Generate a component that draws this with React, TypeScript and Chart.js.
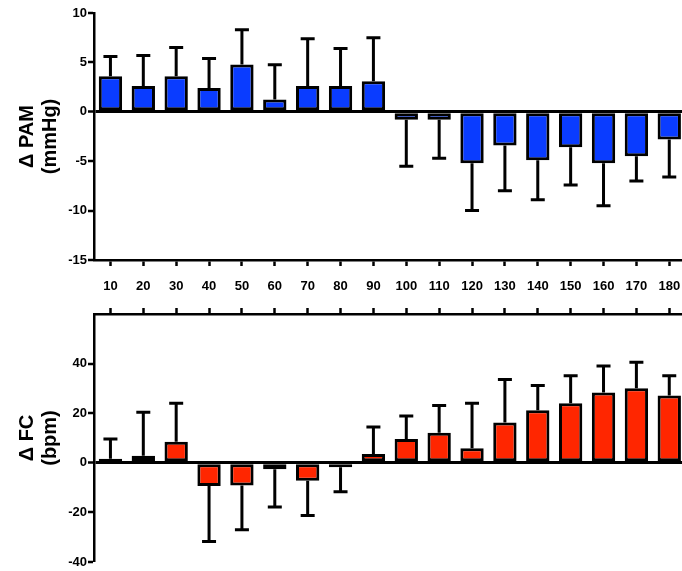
import React, { useEffect, useRef } from "react";
import { Chart, registerables } from "chart.js";

Chart.register(...registerables);

const categories = ["10", "20", "30", "40", "50", "60", "70", "80", "90", "100", "110", "120", "130", "140", "150", "160", "170", "180"];
const pamValues = [3.6, 2.6, 3.6, 2.4, 4.8, 1.25, 2.6, 2.6, 3.1, -0.8, -0.8, -5.2, -3.4, -4.9, -3.6, -5.2, -4.5, -2.8];
const pamErrors = [2.0, 3.1, 2.9, 3.0, 3.5, 3.5, 4.8, 3.8, 4.4, 4.7, 3.9, 4.8, 4.6, 4.0, 3.8, 4.3, 2.5, 3.8];
const fcValues = [1.6, 2.8, 8.5, -9.4, -9.2, -2.6, -7.2, -1.8, 3.5, 9.6, 12.1, 5.9, 16.2, 21.2, 24.0, 28.3, 30.1, 27.1];
const fcErrors = [8.0, 17.6, 15.5, 22.3, 17.8, 15.2, 14.0, 9.9, 10.9, 9.3, 11.0, 18.1, 17.4, 10.0, 11.1, 10.7, 10.4, 8.0];
const pamTitle = ["\u0394 PAM", "(mmHg)"];
const fcTitle = ["\u0394 FC", "(bpm)"];

const FONT = "'Liberation Sans', Arial, Helvetica, sans-serif";
const AXIS_W = 2.5;

const errorBarPlugin = {
  id: "errorBars",
  afterDatasetsDraw(chart: any, _args: any, opts: any) {
    const errs: number[] = opts.errors;
    if (!errs) return;
    const meta = chart.getDatasetMeta(0);
    const yScale = chart.scales.y;
    const ctx = chart.ctx;
    const data = chart.data.datasets[0].data as number[];
    ctx.save();
    ctx.strokeStyle = "#000";
    ctx.lineWidth = 3;
    meta.data.forEach((bar: any, i: number) => {
      const v = data[i];
      const end = v >= 0 ? v + errs[i] : v - errs[i];
      const x = bar.x;
      const y0 = yScale.getPixelForValue(v);
      const y1 = yScale.getPixelForValue(end);
      ctx.beginPath();
      ctx.moveTo(x, y0);
      ctx.lineTo(x, y1);
      ctx.moveTo(x - 7, y1);
      ctx.lineTo(x + 7, y1);
      ctx.stroke();
    });
    ctx.restore();
  },
};

function makeConfig(opts: {
  values: number[];
  errors: number[];
  color: string;
  title: string[];
  min: number;
  max: number;
  step: number;
  xPos: "top" | "bottom";
  showXLabels: boolean;
  padding: any;
  xHeight: number;
  hideTop: boolean;
}): any {
  return {
    type: "bar",
    data: {
      labels: categories,
      datasets: [
        {
          data: opts.values,
          backgroundColor: opts.color,
          borderColor: "#000",
          borderWidth: 3,
          borderSkipped: false,
          categoryPercentage: 1,
          barPercentage: 0.71,
        },
      ],
    },
    options: {
      responsive: false,
      animation: false,
      devicePixelRatio: 1,
      layout: { padding: opts.padding },
      plugins: {
        legend: { display: false },
        tooltip: { enabled: false },
        errorBars: { errors: opts.errors },
      },
      scales: {
        x: {
          type: "category",
          position: opts.xPos,
          offset: true,
          grid: {
            offset: false,
            drawOnChartArea: false,
            drawTicks: true,
            tickLength: 6,
            tickColor: "#000",
            tickWidth: AXIS_W,
          },
          border: { display: true, color: "#000", width: AXIS_W },
          ticks: {
            display: opts.showXLabels,
            color: "#000",
            font: { family: FONT, size: 13, weight: "bold" },
            padding: 13,
            maxRotation: 0,
            autoSkip: false,
          },
          afterFit: (scale: any) => {
            scale.height = opts.xHeight;
          },
        },
        y: {
          min: opts.min,
          max: opts.max,
          afterBuildTicks: (scale: any) => {
            if (opts.hideTop) scale.ticks = scale.ticks.filter((t: any) => t.value !== opts.max);
          },
          ticks: {
            stepSize: opts.step,
            color: "#000",
            padding: 1,
            font: { family: FONT, size: 13, weight: "bold" },
          },
          grid: {
            drawOnChartArea: true,
            color: (c: any) => (c.tick && c.tick.value === 0 ? "#000" : "rgba(0,0,0,0)"),
            lineWidth: (c: any) => (c.tick && c.tick.value === 0 ? 3 : 0),
            drawTicks: true,
            tickLength: 6,
            tickColor: "#000",
            tickWidth: AXIS_W,
          },
          border: { display: true, color: "#000", width: AXIS_W },
          title: {
            display: true,
            text: opts.title,
            color: "#000",
            font: { family: FONT, size: 20, weight: "bold", lineHeight: 1.15 },
            padding: { top: 15.5, bottom: 0 },
          },
          afterFit: (scale: any) => {
            scale.width = 94;
          },
        },
      },
    },
    plugins: [errorBarPlugin],
  };
}

export default function App() {
  const topRef = useRef<HTMLCanvasElement>(null);
  const botRef = useRef<HTMLCanvasElement>(null);

  useEffect(() => {
    const c1 = new Chart(
      topRef.current as HTMLCanvasElement,
      makeConfig({
        values: pamValues,
        errors: pamErrors,
        color: "#0A3CFF",
        title: pamTitle,
        min: -15,
        max: 10,
        step: 5,
        xPos: "bottom",
        showXLabels: true,
        padding: { top: 13, left: 0, right: 14.3, bottom: 0 },
        xHeight: 40,
        hideTop: false,
      })
    );
    const c2 = new Chart(
      botRef.current as HTMLCanvasElement,
      makeConfig({
        values: fcValues,
        errors: fcErrors,
        color: "#FF2600",
        title: fcTitle,
        min: -40,
        max: 60,
        step: 20,
        xPos: "top",
        showXLabels: false,
        padding: { top: 0, left: 0, right: 14.3, bottom: 9 },
        xHeight: 14,
        hideTop: true,
      })
    );
    return () => {
      c1.destroy();
      c2.destroy();
    };
  }, []);

  return (
    <div
      style={{
        position: "fixed",
        left: 0,
        top: 0,
        width: 682,
        height: 571,
        overflow: "hidden",
        background: "#fff",
      }}
    >
      <canvas
        ref={topRef}
        width={700}
        height={300}
        style={{ position: "absolute", left: 0, top: 0, width: 700, height: 300 }}
      />
      <canvas
        ref={botRef}
        width={700}
        height={271}
        style={{ position: "absolute", left: 0, top: 300, width: 700, height: 271 }}
      />
    </div>
  );
}
